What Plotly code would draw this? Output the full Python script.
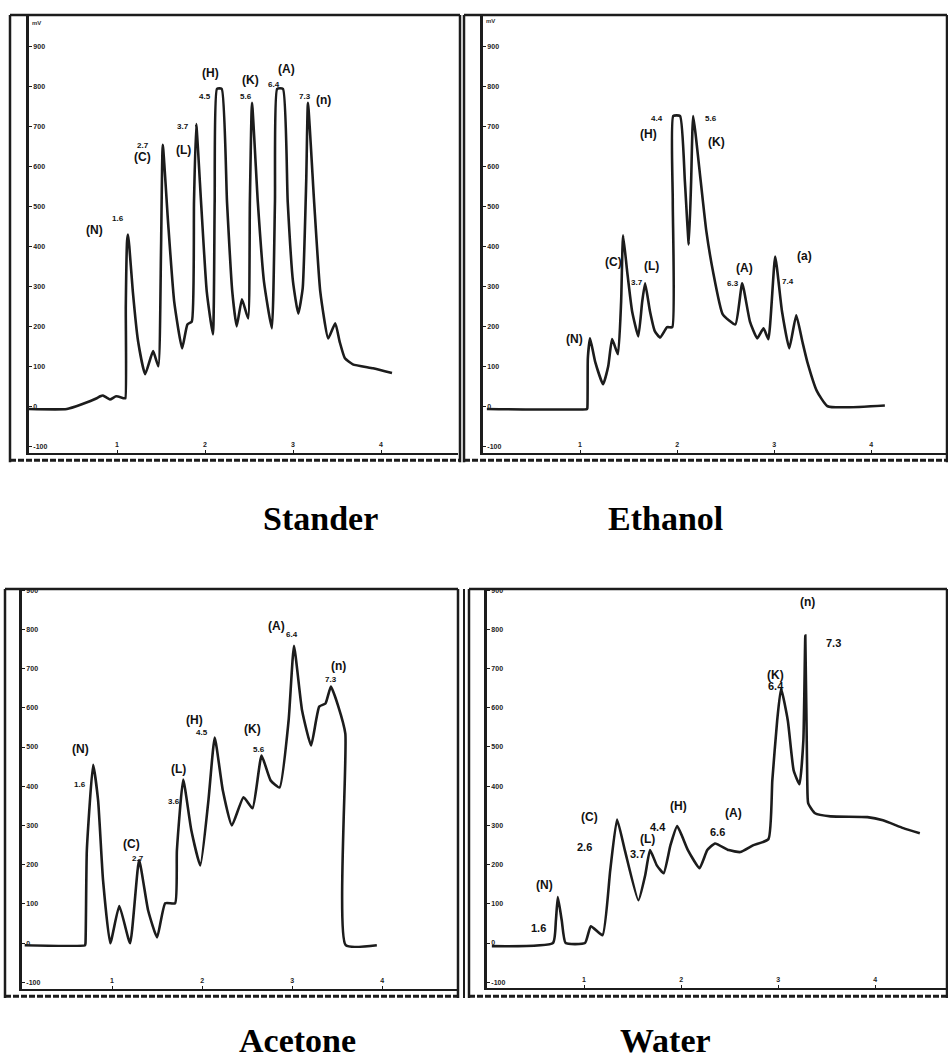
import plotly.graph_objects as go

# ---------------- data (retention axis units, mV) ----------------
std_t = [0, 0.43, 0.60, 0.77, 0.81, 0.84, 0.92, 0.99, 1.08, 1.095, 1.10, 1.115, 1.125, 1.14,
         1.18, 1.24, 1.32, 1.41, 1.47, 1.50, 1.52, 1.58, 1.65, 1.74, 1.80, 1.85, 1.875, 1.90,
         1.955, 2.02, 2.09, 2.11, 2.136, 2.19, 2.25, 2.31, 2.36, 2.42, 2.49, 2.51, 2.534, 2.60,
         2.67, 2.76, 2.795, 2.82, 2.886, 2.94, 3.00, 3.06, 3.11, 3.15, 3.17, 3.24, 3.31, 3.40,
         3.48, 3.53, 3.59, 3.68, 3.91, 4.125]
std_mv = [-7, -7, 5, 20, 25, 27, 17, 25, 20, 20, 250, 415, 430, 400,
          287, 162, 80, 138, 100, 387, 655, 462, 262, 145, 205, 212, 512, 707,
          512, 287, 180, 512, 795, 795, 512, 287, 200, 268, 220, 512, 760, 512,
          312, 195, 512, 795, 795, 512, 312, 232, 295, 562, 760, 512, 287, 170,
          208, 162, 120, 105, 95, 83]

eth_t = [0.04, 1.07, 1.075, 1.08, 1.103, 1.155, 1.237, 1.29, 1.33, 1.39, 1.423, 1.443, 1.485,
         1.536, 1.60, 1.64, 1.67, 1.72, 1.77, 1.825, 1.897, 1.95, 1.955, 1.96, 2.03, 2.08, 2.12,
         2.144, 2.165, 2.24, 2.30, 2.37, 2.47, 2.60, 2.67, 2.75, 2.825, 2.89, 2.94, 3.01, 3.08,
         3.155, 3.227, 3.29, 3.34, 3.44, 3.55, 4.14]
eth_mv = [-7, -7, -5, 120, 170, 112, 55, 100, 168, 130, 262, 428, 338,
          238, 175, 262, 308, 238, 188, 172, 198, 198, 512, 727, 727, 562, 405,
          562, 727, 570, 440, 337, 230, 205, 308, 212, 170, 195, 168, 375, 238,
          145, 228, 162, 112, 38, 0, 2]

ace_t = [0.03, 0.70, 0.705, 0.72, 0.79, 0.845, 0.90, 0.98, 1.08, 1.20, 1.30, 1.40, 1.50, 1.59,
         1.70, 1.72, 1.79, 1.88, 1.98, 2.07, 2.14, 2.23, 2.33, 2.46, 2.56, 2.66, 2.76, 2.86,
         2.96, 3.02, 3.11, 3.21, 3.30, 3.37, 3.43, 3.51, 3.59, 3.594, 3.94]
ace_mv = [-5, -5, 0, 237, 455, 364, 160, 0, 95, 0, 212, 84, 15, 102,
          102, 237, 417, 288, 198, 364, 524, 389, 300, 372, 344, 478, 415, 397,
          567, 758, 593, 504, 603, 611, 654, 605, 534, -5, -5]

wat_t = [0.05, 0.68, 0.71, 0.73, 0.77, 0.81, 1.01, 1.07, 1.19, 1.27, 1.34, 1.42, 1.56, 1.63,
         1.68, 1.75, 1.82, 1.89, 1.96, 2.07, 2.19, 2.27, 2.35, 2.49, 2.61, 2.74, 2.90, 2.94,
         2.99, 3.03, 3.10, 3.16, 3.22, 3.26, 3.28, 3.30, 3.31, 3.38, 3.54, 3.92, 4.08, 4.29, 4.46]
wat_mv = [-8, 0, 58, 117, 58, 0, 0, 43, 20, 186, 315, 237, 109, 173,
          237, 198, 178, 249, 298, 237, 191, 237, 254, 237, 232, 249, 265, 415,
          567, 649, 567, 440, 405, 517, 784, 415, 356, 331, 323, 321, 313, 293, 280]

# peak labels: text, x, y (data units)
std_lab_text = ["(N)", "1.6", "2.7", "(C)", "3.7", "(L)", "(H)", "4.5", "(K)", "5.6", "(A)", "6.4", "7.3", "(n)"]
std_lab_x = [0.739, 1.011, 1.295, 1.295, 1.75, 1.75, 2.057, 2.0, 2.52, 2.466, 2.93, 2.78, 3.136, 3.35]
std_lab_y = [442, 470, 652, 625, 700, 642, 835, 777, 817, 777, 845, 805, 775, 767]

eth_lab_text = ["(N)", "(C)", "3.7", "(L)", "(H)", "4.4", "5.6", "(K)", "6.3", "(A)", "7.4", "(a)"]
eth_lab_x = [0.94, 1.34, 1.59, 1.74, 1.70, 1.79, 2.35, 2.41, 2.58, 2.69, 3.14, 3.31]
eth_lab_y = [168, 362, 310, 352, 682, 720, 720, 662, 307, 345, 312, 377]

ace_lab_text = ["(N)", "1.6", "(C)", "2.7", "(L)", "3.6", "(H)", "4.5", "(K)", "5.6", "(A)", "6.4", "(n)", "7.3"]
ace_lab_x = [0.644, 0.644, 1.22, 1.29, 1.733, 1.69, 1.92, 2.0, 2.56, 2.63, 2.83, 3.0, 3.51, 3.43]
ace_lab_y = [496, 405, 254, 216, 443, 361, 570, 537, 545, 494, 809, 786, 707, 672]

wat_lab_text = ["(N)", "1.6", "(C)", "2.6", "(L)", "3.7", "(H)", "4.4", "(A)", "6.6", "(K)", "6.4", "(n)", "7.3"]
wat_lab_x = [0.59, 0.53, 1.06, 1.0, 1.65, 1.55, 1.97, 1.76, 2.54, 2.38, 2.97, 2.98, 3.30, 3.57]
wat_lab_y = [148, 38, 321, 244, 265, 226, 349, 295, 331, 282, 684, 656, 870, 766]

panel_titles = ["Stander", "Ethanol", "Acetone", "Water"]
y_ticks = [-100, 0, 100, 200, 300, 400, 500, 600, 700, 800, 900]
x_ticks = [1, 2, 3, 4]

# ---------------- layout helpers ----------------
W, H = 948, 1063
def X(px): return px / W
def Y(py): return 1 - py / H

INK = "#1c1c1c"
fig = go.Figure()

panels = [
    # (t, mv, lab_text, lab_x, lab_y, xdom px, ydom px, xrange, yrange)
    (std_t, std_mv, std_lab_text, std_lab_x, std_lab_y, (29, 458), (14, 452), (0, 4.875), (-117.5, 977.5)),
    (eth_t, eth_mv, eth_lab_text, eth_lab_x, eth_lab_y, (483, 947), (14, 452), (0, 4.78), (-117.5, 977.5)),
    (ace_t, ace_mv, ace_lab_text, ace_lab_x, ace_lab_y, (22, 457), (588, 989), (0, 4.83), (-117, 903)),
    (wat_t, wat_mv, wat_lab_text, wat_lab_x, wat_lab_y, (487, 947), (588, 988), (0, 4.74), (-115, 903)),
]

annotations = []
layout_axes = {}
for i, (t, mv, lt, lx, ly, xd, yd, xr, yr) in enumerate(panels, start=1):
    xa = "x" if i == 1 else f"x{i}"
    ya = "y" if i == 1 else f"y{i}"
    fig.add_trace(go.Scatter(x=t, y=mv, mode="lines", xaxis=xa, yaxis=ya,
                             line=dict(color=INK, width=2.6, shape="spline", smoothing=0.45),
                             showlegend=False, hoverinfo="skip"))
    xkey = "xaxis" if i == 1 else f"xaxis{i}"
    ykey = "yaxis" if i == 1 else f"yaxis{i}"
    layout_axes[xkey] = dict(domain=[X(xd[0]), X(xd[1])], range=list(xr), anchor=ya,
                             showgrid=False, zeroline=False, showline=True, linecolor=INK, linewidth=2,
                             tickvals=x_ticks, ticktext=[str(v) for v in x_ticks],
                             ticks="inside", ticklen=3, tickcolor=INK,
                             ticklabelposition="inside", ticklabeloverflow="allow",
                             tickfont=dict(family="Liberation Sans", size=7, color="#222", weight="bold"))
    layout_axes[ykey] = dict(domain=[Y(yd[1]), Y(yd[0])], range=list(yr), anchor=xa,
                             showgrid=False, zeroline=False, showline=True, linecolor=INK, linewidth=2.5,
                             tickvals=y_ticks, ticktext=[str(v) for v in y_ticks],
                             ticks="inside", ticklen=3, tickcolor=INK,
                             ticklabelposition="inside", ticklabeloverflow="allow",
                             tickfont=dict(family="Liberation Sans", size=7, color="#222", weight="bold"))
    for txt, ax_, ay_ in zip(lt, lx, ly):
        is_name = txt.startswith("(")
        big = i == 4
        size = 12 if is_name else (11 if big else 8)
        annotations.append(dict(x=ax_, y=ay_, xref=xa, yref=ya, text=txt, showarrow=False,
                                font=dict(family="Liberation Sans", size=size, color="#111", weight="bold"),
                                xanchor="center", yanchor="middle"))

fig.update_layout(**layout_axes)

# unit labels at top of y axes (top panels)
for xp, yp in [(36, 21), (490, 19)]:
    annotations.append(dict(x=X(xp), y=Y(yp), xref="paper", yref="paper", text="mV", showarrow=False,
                            font=dict(family="Liberation Sans", size=6, color="#333", weight="bold"),
                            xanchor="center", yanchor="middle"))

# panel titles
for txt, xp, yp in zip(panel_titles, [320, 665, 297, 665], [517, 517, 1040, 1040]):
    annotations.append(dict(x=X(xp), y=Y(yp), xref="paper", yref="paper", text=txt, showarrow=False,
                            font=dict(family="Liberation Serif", size=34, color="black", weight="bold"),
                            xanchor="center", yanchor="middle"))

# frames around each chromatogram
shapes = []
frames = [(10, 13, 460, 461), (464, 13, 947, 461), (5, 588, 458, 998), (469, 588, 947, 998)]
for l, tp, r, b in frames:
    for (x0, y0, x1, y1) in [(l, tp, r, tp), (l, tp, l, b), (r, tp, r, b)]:
        shapes.append(dict(type="line", xref="paper", yref="paper", x0=X(x0), y0=Y(y0), x1=X(x1), y1=Y(y1),
                           line=dict(color=INK, width=2.5)))
    shapes.append(dict(type="line", xref="paper", yref="paper", x0=X(l), y0=Y(b - 2), x1=X(r), y1=Y(b - 2),
                       line=dict(color=INK, width=3, dash="6px,2px")))
# double left border of the water panel
shapes.append(dict(type="line", xref="paper", yref="paper", x0=X(464), y0=Y(588), x1=X(464), y1=Y(998),
                   line=dict(color=INK, width=2)))

fig.update_layout(width=W, height=H, margin=dict(l=0, r=0, t=0, b=0),
                  paper_bgcolor="white", plot_bgcolor="white",
                  annotations=annotations, shapes=shapes, showlegend=False)

fig.write_html("out.html")
